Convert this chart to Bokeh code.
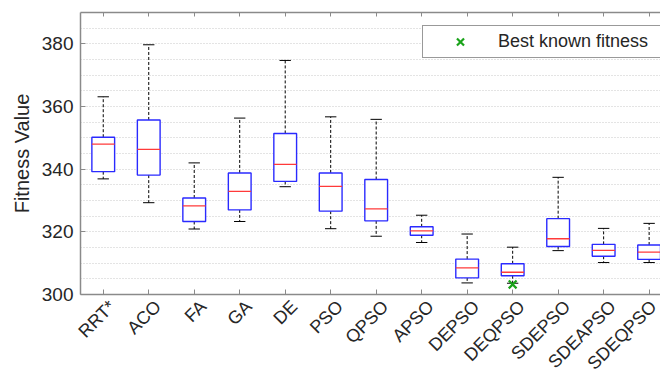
import math
from bokeh.plotting import figure
from bokeh.models import (FixedTicker, LinearAxis, Range1d, Legend, LegendItem,
                          ColumnDataSource, CustomJSTickFormatter)
from bokeh.embed import file_html
from bokeh.resources import INLINE

# ---- data ----
names = ["RRT*", "ACO", "FA", "GA", "DE", "PSO", "QPSO", "APSO",
         "DEPSO", "DEQPSO", "SDEPSO", "SDEAPSO", "SDEQPSO"]
whisk_hi = [363.1, 379.7, 342.0, 356.3, 374.7, 356.7, 355.9, 325.3, 319.3, 315.1, 337.4, 321.1, 322.7]
q3 = [350.2, 355.7, 330.8, 338.8, 351.4, 338.8, 336.7, 321.6, 311.3, 309.8, 324.2, 316.0, 315.8]
med = [348.0, 346.3, 328.3, 332.9, 341.5, 334.5, 327.3, 320.3, 308.5, 307.1, 317.8, 314.1, 313.5]
q1 = [339.2, 338.1, 323.3, 327.0, 336.1, 326.6, 323.5, 318.9, 305.3, 306.0, 315.3, 312.2, 311.2]
whisk_lo = [336.9, 329.3, 320.9, 323.3, 334.4, 321.0, 318.6, 316.6, 303.7, 303.6, 314.0, 310.2, 310.2]
best_name = "DEQPSO"
best_value = 303.2
y_ticks = [300, 320, 340, 360, 380]
y_min, y_max = 300, 390

xs = list(range(1, len(names) + 1))
box_w = 0.5
cap_w = 0.25
label_shift = 0.2   # rotated labels sit a little right of their tick (as in MATLAB)

src = ColumnDataSource(dict(
    x=xs, hi=whisk_hi, q3=q3, med=med, q1=q1, lo=whisk_lo,
    left=[x - box_w / 2 for x in xs], right=[x + box_w / 2 for x in xs],
    cl=[x - cap_w / 2 for x in xs], cr=[x + cap_w / 2 for x in xs],
))

FONT = "Liberation Sans"
TXT = "#262626"
AX = "#8a8a8a"

p = figure(width=660, height=383, output_backend="svg", toolbar_location=None,
           x_range=Range1d(0.5, 13.25), y_range=Range1d(y_min, y_max),
           min_border_left=80, min_border_right=0, min_border_top=12,
           min_border_bottom=88)
p.outline_line_color = None
p.background_fill_color = "white"

# grid: dotted every 5
p.xgrid.visible = False
p.ygrid.ticker = FixedTicker(ticks=list(range(305, 390, 5)))
p.ygrid.grid_line_color = "#c8c8c8"
p.ygrid.grid_line_dash = "1 2"
p.ygrid.grid_line_width = 1

# whiskers
p.segment(x0="x", y0="q3", x1="x", y1="hi", source=src, line_color="black",
          line_dash="3 2", line_width=1)
p.segment(x0="x", y0="q1", x1="x", y1="lo", source=src, line_color="black",
          line_dash="3 2", line_width=1)
p.segment(x0="cl", y0="hi", x1="cr", y1="hi", source=src, line_color="black", line_width=1)
p.segment(x0="cl", y0="lo", x1="cr", y1="lo", source=src, line_color="black", line_width=1)

# boxes
p.quad(left="left", right="right", bottom="q1", top="q3", source=src,
       fill_color="white", line_color="#2a2aff", line_width=1.4)
p.segment(x0="left", y0="med", x1="right", y1="med", source=src,
          line_color="#ff3a3a", line_width=1.3)

# best known
bx = [xs[names.index(best_name)]]
best_r = p.scatter(x=bx, y=[best_value], marker="x", size=11, line_width=2.2,
                   line_color="#1aa31a")

legend = Legend(items=[LegendItem(label="Best known fitness", renderers=[best_r])],
                location=(342, 236))
legend.padding = 3
legend.margin = 0
legend.glyph_width = 68
legend.glyph_height = 25
legend.label_height = 25
legend.label_standoff = 4
legend.label_width = 159
legend.label_text_font = FONT
legend.label_text_font_size = "18px"
legend.label_text_color = TXT
legend.border_line_color = "#333333"
legend.border_line_width = 1
legend.background_fill_color = "white"
legend.background_fill_alpha = 1
p.add_layout(legend, "center")

empty = CustomJSTickFormatter(code="return '';")

# bottom axis: tick marks only
xa = p.xaxis[0]
xa.ticker = FixedTicker(ticks=xs)
xa.formatter = empty
xa.major_label_text_font_size = "1px"
xa.major_label_standoff = 0
xa.major_tick_in = 5
xa.major_tick_out = 0
xa.minor_tick_line_color = None
xa.axis_line_color = AX
xa.axis_line_width = 1.5
xa.major_tick_line_color = AX

# second bottom axis: rotated category labels only
lab_ticks = [x + label_shift for x in xs]
xl = LinearAxis(ticker=FixedTicker(ticks=lab_ticks))
xl.major_label_overrides = {t: n for t, n in zip(lab_ticks, names)}
xl.major_label_orientation = math.pi / 4
xl.major_label_text_font = FONT
xl.major_label_text_font_size = "18px"
xl.major_label_text_color = TXT
xl.major_label_standoff = 9
xl.major_tick_in = 0
xl.major_tick_out = 0
xl.major_tick_line_color = None
xl.minor_tick_line_color = None
xl.axis_line_color = None
p.add_layout(xl, "below")

ya = p.yaxis[0]
ya.ticker = FixedTicker(ticks=y_ticks)
ya.major_label_text_font = FONT
ya.major_label_text_font_size = "19px"
ya.major_label_text_color = TXT
ya.major_label_standoff = 7
ya.major_tick_in = 5
ya.major_tick_out = 0
ya.minor_tick_line_color = None
ya.axis_line_color = AX
ya.axis_line_width = 1.5
ya.major_tick_line_color = AX
ya.axis_label = "Fitness Value"
ya.axis_label_text_font = FONT
ya.axis_label_text_font_size = "20px"
ya.axis_label_text_font_style = "normal"
ya.axis_label_text_color = TXT
ya.axis_label_standoff = 6

top = LinearAxis(ticker=FixedTicker(ticks=xs), formatter=empty)
top.major_label_text_font_size = "1px"
top.major_label_standoff = 0
top.major_tick_in = 4
top.major_tick_out = 0
top.minor_tick_line_color = None
top.axis_line_color = AX
top.axis_line_width = 1.5
top.major_tick_line_color = AX
p.add_layout(top, "above")

open("out.html", "w").write(file_html(p, INLINE))
